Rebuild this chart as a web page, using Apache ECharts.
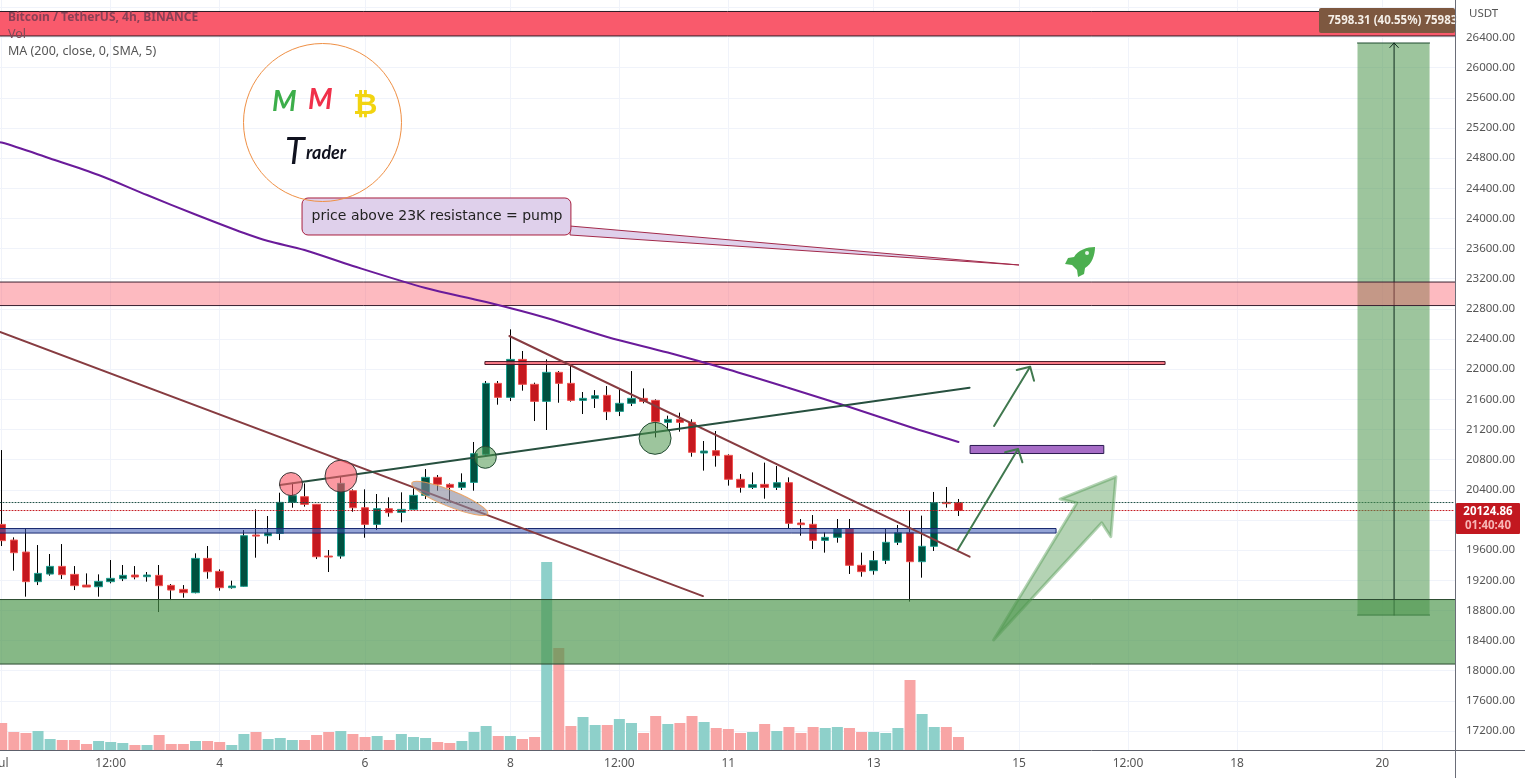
<!DOCTYPE html>
<html><head><meta charset="utf-8">
<style>html,body{margin:0;padding:0;background:#fff}#c{width:1525px;height:778px}</style>
<script src="https://cdn.jsdelivr.net/npm/echarts@6/dist/echarts.min.js"></script>
</head><body><div id="c"></div>
<script>
const opens=[19941,19733,19574,19181,19282,19384,19278,19136,19114,19181,19220,19269,19247,19265,19132,19079,19035,19490,19318,19101,19119,19800,19791,19822,20233,20308,20207,19521,19521,20388,20162,19941,20149,20100,20140,20326,20565,20472,20432,20498,20870,21812,21626,22130,21799,21573,21958,21812,21586,21613,21653,21440,21547,21613,21586,21294,21335,21295,20888,20919,20857,20539,20432,20472,20432,20494,19959,19942,19729,19769,19884,19398,19327,19464,19703,19831,19446,19650,20233,20229];
const closes=[19725,19565,19181,19291,19384,19274,19128,19110,19185,19225,19265,19243,19269,19128,19070,19035,19490,19313,19101,19123,19791,19786,19826,20233,20322,20207,19512,19508,20485,20162,19941,20149,20096,20140,20326,20565,20472,20432,20498,20879,21812,21626,22130,21799,21573,21958,21812,21586,21613,21648,21436,21547,21613,21573,21303,21334,21295,20897,20914,20853,20539,20432,20468,20432,20494,19955,19937,19729,19769,19884,19398,19314,19460,19703,19831,19446,19650,20229,20216,20124.86];
const lows=[19654,19327,18982,19136,19260,19216,19070,19110,18982,19159,19189,19212,19181,18778,18937,18968,19026,19220,19061,19088,19114,19499,19685,19733,20162,20176,19481,19309,19486,20109,19764,19866,20043,19968,20131,20277,20388,20264,20397,20388,20839,21529,21577,21715,21312,21193,21555,21569,21405,21485,21325,21378,21511,21547,21095,21193,21171,20839,20654,20707,20455,20362,20410,20282,20397,19893,19791,19614,19566,19698,19283,19247,19274,19415,19667,18916,19234,19588,20163,20052];
const highs=[20927,19769,19888,19667,19548,19680,19388,19291,19278,19468,19402,19388,19309,19402,19150,19136,19557,19654,19344,19194,19866,20140,20052,20361,20494,20485,20207,19601,20574,20406,20406,20344,20300,20366,20419,20675,20596,20485,20618,21034,21843,21843,22528,22241,21821,22130,21975,22055,21697,21723,21776,21737,21975,21745,21600,21383,21423,21335,21047,21180,20870,20609,20631,20760,20715,20565,20012,20065,19835,20012,20012,19566,19588,19880,19933,20123,20057,20371,20437,20278];
const volumes=[27,18,17,19,11,10,10,6,9,8,7,5,5,15,6,6,9,9,8,5,16,18,11,12,10,10,15,18,19,16,13,14,10,16,13,12,8,7,9,18,24,14,14,11,13,188,102,24,33,25,25,31,27,17,34,26,27,34,28,22,21,17,18,26,19,23,17,23,22,23,22,18,18,17,22,70,36,23,23,13];
const maLine=[[-1,25020],[0,25006],[4,24795],[8,24576],[12,24310],[16,24052],[20,23806],[22,23700],[25,23581],[29,23369],[35,23077],[40,22891],[45,22679],[50,22427],[55,22221],[60,21995],[65,21750],[70,21498],[75,21232],[79,21034]];
const tickIndex=[0,9,18,30,42,51,60,72,84,93,102,114];
const tickText=['Jul','12:00','4','6','8','12:00','11','13','15','12:00','18','20'];
const xMin=-0.14, xMax=120, lastPrice=20124.86, prevPrice=20231;
// Drawn zones: [start index, end index, top price, bottom price]
const redTopZone=[-2,122,26745,26420];
const pinkZone=[-2,122,23156,22844];
const greenZone=[-2,122,18944,18088];
const blueZone=[-2,87.06,19886,19826];
const redThinZone=[39.9,96.06,22101,22062];
const purpleZone=[79.96,91,20988,20881];
const measureZone=[111.95,117.9,26327,18738];
const measureMid=114.97;
const brownLineA=[[xMin,22493],[57.9,18990]];
const brownLineB=[[41.92,22440],[79.92,19512]];
const greenLine=[[22.98,20463],[79.92,21754]];
const arrowA=[[81.94,21246],[84.92,22032]], arrowABarbs=[[83.81,21989],[84.92,22032],[85.24,21847]];
const arrowB=[[78.93,19601],[83.92,20941]], arrowBBarbs=[[82.85,20897],[83.92,20941],[84.28,20764]];
const fatArrow=[[81.9,18407],[88.77,20224],[87.39,20277],[92,20573],[91.58,19777],[90.83,19963]];
const calloutTail=[[46.93,23899],[46.93,23780],[84,23382]];
const calloutBox=[24.8,47,24271,23780];
const pinkCircles=[[23.89,20476,11.5],[28.02,20582,16]];
const greenCircles=[[39.93,20831,11],[53.95,21083,16]];
const ellipseCenter=[37,20285];
const rocketAnchor=[87.8,23621];
const font='"Noto Sans",sans-serif';

const candleData=opens.map((o,i)=>[i,o,closes[i],lows[i],highs[i]]);
const bodyData=opens.map((o,i)=>[i,o,closes[i],Math.min(o,closes[i]),Math.max(o,closes[i])]);
const volData=volumes.map((v,i)=>[i,v]);

function zoneSeries(zone,fill,stroke,z,radius){
  return {type:'custom',xAxisIndex:0,yAxisIndex:0,z,silent:true,clip:true,data:[[Math.max(zone[0],xMin),zone[2]]],
    renderItem:(p,api)=>{
      const a=api.coord([zone[0],zone[2]]),b=api.coord([zone[1],zone[3]]);
      return {type:'rect',shape:{x:a[0],y:a[1],width:b[0]-a[0],height:b[1]-a[1],r:radius||0},style:{fill,stroke,lineWidth:1}};
    }};
}
function lineSeries(points,color,width,z,type,smooth){
  return {type:'line',xAxisIndex:0,yAxisIndex:0,data:points,showSymbol:false,silent:true,z,smooth:smooth||false,
    lineStyle:{color,width,type:type||'solid',cap:'round',join:'round'}};
}
function polySeries(points,fill,stroke,z,lw){
  return {type:'custom',xAxisIndex:0,yAxisIndex:0,z,silent:true,clip:false,data:[points[0]],
    renderItem:(p,api)=>({type:'polygon',shape:{points:points.map(q=>api.coord(q))},style:{fill,stroke,lineWidth:lw,lineJoin:'round'}})};
}
function circleSeries(list,fill,stroke,z){
  return {type:'custom',xAxisIndex:0,yAxisIndex:0,z,silent:true,clip:false,data:list.map(c=>[c[0],c[1]]),
    renderItem:(p,api)=>{const c=list[p.dataIndex],q=api.coord([c[0],c[1]]);
      return {type:'circle',shape:{cx:q[0],cy:q[1],r:c[2]},style:{fill,stroke,lineWidth:1}};}};
}
const txt=(x,y,text,font2,fill,extra)=>({type:'text',x,y,z:50,silent:true,style:Object.assign({text,font:font2,fill,verticalAlign:'middle'},extra||{})});

const option={
  animation:false,
  backgroundColor:'#fff',
  grid:[
    {left:0,width:1455,top:7.35,height:723.65,outerBoundsMode:'none'},
    {left:0,width:1455,top:0,height:750,outerBoundsMode:'none'}
  ],
  xAxis:[
    {type:'value',gridIndex:0,min:xMin,max:xMax,show:false},
    {type:'value',gridIndex:1,min:xMin,max:xMax,
      axisLine:{show:true,onZero:false,lineStyle:{color:'#5d606b',width:1}},
      axisTick:{show:false,customValues:tickIndex},
      splitLine:{show:true,lineStyle:{color:'#f0f3fa',width:1}},
      axisLabel:{customValues:tickIndex,margin:8,color:'#555',fontFamily:font,fontSize:12,
        formatter:v=>tickText[tickIndex.indexOf(v)]}}
  ],
  yAxis:[
    {type:'value',gridIndex:0,min:17200,max:26800,interval:400,position:'right',
      axisLine:{show:false,onZero:false},axisTick:{show:false},
      splitLine:{show:true,lineStyle:{color:'#f0f3fa',width:1}},
      axisLabel:{margin:11,color:'#555',fontFamily:font,fontSize:11.5,align:'left',
        formatter:v=>v>=26800?'':v.toFixed(2)}},
    {type:'value',gridIndex:1,min:0,max:750,position:'right',
      axisLine:{show:false,onZero:false},axisTick:{show:false},
      axisLabel:{show:false},splitLine:{show:false}}
  ],
  series:[
    {type:'custom',xAxisIndex:1,yAxisIndex:1,data:volData,z:2,silent:true,clip:true,
      renderItem:(p,api)=>{
        const i=api.value(0),a=api.coord([i,api.value(1)]),b=api.coord([i,0]);
        return {type:'rect',shape:{x:a[0]-5.5,y:a[1],width:11,height:b[1]-a[1]},
          style:{fill:closes[i]>opens[i]?'#8ed0ca':'#f8a5a5'}};
      }},
    {type:'candlestick',xAxisIndex:0,yAxisIndex:0,data:candleData,barWidth:1,z:3,silent:true,
      itemStyle:{color:'#000',color0:'#000',borderColor:'#000',borderColor0:'#000',borderWidth:1}},
    {type:'candlestick',xAxisIndex:0,yAxisIndex:0,data:bodyData,barWidth:8,z:4,silent:true,
      itemStyle:{color:'#00503f',color0:'#c5181f',borderColor:'#1f9d8f',borderColor0:'#ef5350',borderWidth:1}},
    lineSeries([[xMin,prevPrice],[xMax,prevPrice]],'#1e4f45',1,5,[1,2]),
    lineSeries([[xMin,lastPrice],[xMax,lastPrice]],'#c5181f',1,5,[1,2]),
    zoneSeries(measureZone,'rgba(76,150,76,.55)','none',6),
    lineSeries([[measureZone[0],measureZone[2]],[measureZone[1],measureZone[2]]],'#1f4a2f',1,7),
    lineSeries([[measureZone[0],measureZone[3]],[measureZone[1],measureZone[3]]],'#1f4a2f',1,7),
    lineSeries([[measureMid,measureZone[3]],[measureMid,measureZone[2]]],'#0d2a1c',1,7),
    lineSeries([[measureMid-0.35,measureZone[2]-60],[measureMid,measureZone[2]],[measureMid+0.35,measureZone[2]-60]],'#0d2a1c',1,7),
    zoneSeries(redTopZone,'#f95a6c','#2a1a24',8),
    zoneSeries(pinkZone,'rgba(250,90,105,.42)','#3a2030',8),
    zoneSeries(greenZone,'rgba(76,150,76,.68)','#2a4a2f',8),
    zoneSeries(blueZone,'rgba(60,90,180,.55)','#1a2a70',8),
    zoneSeries(redThinZone,'rgba(249,90,105,.8)','#4a1a2a',8),
    zoneSeries(purpleZone,'#a66cc6','#2a1a50',8),
    lineSeries(maLine,'#6a1b9a',2,9,'solid',0.3),
    lineSeries(brownLineA,'#873c41',2,9),
    lineSeries(brownLineB,'#873c41',2,9),
    lineSeries(greenLine,'#27503f',2,9),
    circleSeries(pinkCircles,'rgba(250,90,105,.62)','#3a3a3a',10),
    circleSeries(greenCircles,'rgba(76,150,76,.55)','#204a30',10),
    polySeries(fatArrow,'rgba(76,150,76,.42)','rgba(76,150,76,.42)',10,3),
    polySeries(calloutTail,'#dfd0eb','#a32a4a',10,1),
    zoneSeries(calloutBox,'#dfd0eb','#a81e3e',11,6),
    lineSeries(arrowA,'#41794f',2,11),lineSeries(arrowABarbs,'#41794f',2,11),
    lineSeries(arrowB,'#41794f',2,11),lineSeries(arrowBBarbs,'#41794f',2,11),
    {type:'custom',xAxisIndex:0,yAxisIndex:0,z:10,silent:true,clip:false,data:[ellipseCenter],
      renderItem:(p,api)=>{const c=api.coord(ellipseCenter);
        return {type:'ellipse',x:c[0],y:c[1],rotation:-0.385,shape:{cx:0,cy:0,rx:41,ry:8},
          style:{fill:'rgba(135,135,155,.6)',stroke:'rgba(240,155,80,.85)',lineWidth:1}};}},
    {type:'custom',xAxisIndex:0,yAxisIndex:0,z:10,silent:true,clip:false,data:[rocketAnchor],
      renderItem:(p,api)=>{const c=api.coord(rocketAnchor);
        return {type:'group',children:[
          {type:'path',shape:{pathData:'M30,0 C22,0 13,3 9,10 L3,11 L0,17 L7,18 L12,23 L13,30 L19,27 L20,21 C27,17 30,8 30,0 Z',x:c[0],y:c[1],width:30,height:30},style:{fill:'#4caf50'}},
          {type:'circle',shape:{cx:c[0]+22,cy:c[1]+6,r:2},style:{fill:'#e8f5e9'}}
        ]};}}
  ],
  graphic:{elements:[
    {type:'circle',shape:{cx:322.5,cy:122.5,r:79},style:{fill:'transparent',stroke:'#ef9045',lineWidth:1},z:50,silent:true},
    txt(8,18,'Bitcoin / TetherUS, 4h, BINANCE','bold 12px '+font,'#8b4056'),
    txt(8,34,'Vol','12.5px '+font,'#7c4a58'),
    txt(8,51,'MA (200, close, 0, SMA, 5)','12.5px '+font,'#555'),
    txt(272,102,'M','italic bold 28px Lato,sans-serif','#3cae4a'),
    txt(308,100,'M','italic bold 28px Lato,sans-serif','#f0304a'),
    txt(353,106,'₿','bold 30px "DejaVu Sans",sans-serif','#f2d410'),
    txt(285,152,'T','italic 36px Lato,sans-serif','#10121f'),
    txt(306,153,'rader','italic bold 18px Lato,sans-serif','#10121f'),
    txt(437,216,'price above 23K resistance = pump','14px "DejaVu Sans",sans-serif','#222',{textAlign:'center'}),
    {type:'rect',shape:{x:1319,y:8,width:136,height:25,r:2},style:{fill:'#7d5840'},z:51,silent:true},
    Object.assign(txt(1328,20.5,'7598.31 (40.55%) 75983','bold 11.5px '+font,'#f5efe8'),{z:52}),
    {type:'rect',shape:{x:1456,y:503,width:64,height:31,r:1},style:{fill:'#c2181f'},z:51,silent:true},
    Object.assign(txt(1488,511.5,'20124.86','bold 11.5px '+font,'#fff',{textAlign:'center'}),{z:52}),
    Object.assign(txt(1488,526,'01:40:40','bold 11.5px '+font,'#f7b5b5',{textAlign:'center'}),{z:52}),
    txt(1469,14,'USDT','11.5px '+font,'#555'),
    {type:'line',shape:{x1:1455.5,y1:0,x2:1455.5,y2:778},style:{stroke:'#6a6d78',lineWidth:1},z:53,silent:true},
    {type:'line',shape:{x1:1455,y1:750.5,x2:1525,y2:750.5},style:{stroke:'#5d606b',lineWidth:1},z:50,silent:true}
  ]}
};
const chart=echarts.init(document.getElementById('c'),null,{renderer:'canvas'});
chart.setOption(option);
</script></body></html>
